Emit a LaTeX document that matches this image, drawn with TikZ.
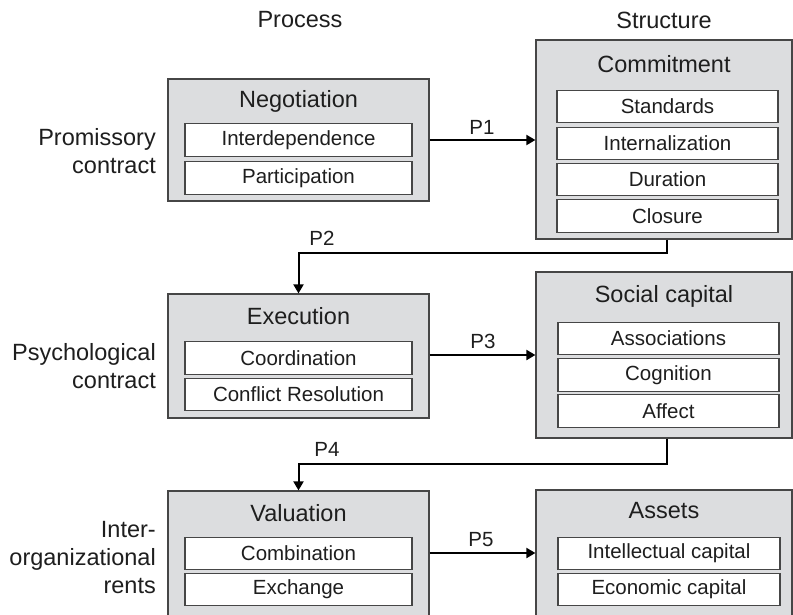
\documentclass[tikz,border=0pt]{standalone}
\usepackage{fontspec}
\setmainfont{Liberation Sans}
\usetikzlibrary{arrows.meta,calc}
\definecolor{boxfill}{RGB}{220,221,223}
\definecolor{boxline}{RGB}{70,70,70}
\definecolor{txt}{RGB}{30,30,30}
\tikzset{
  outerbox/.style={draw=boxline, line width=1.2pt, fill=boxfill, minimum width=#1, inner sep=0pt},
  innerbox/.style={draw=boxline, line width=1.1pt, fill=white, minimum height=32.5pt, inner sep=0pt, text=txt, font=\fontsize{20.5}{24}\selectfont},
  titletext/.style={text=txt, font=\fontsize{23.5}{28}\selectfont, inner sep=0pt},
  sidetext/.style={text=txt, font=\fontsize{23.5}{28}\selectfont, align=right, inner sep=0pt, anchor=east},
  plabel/.style={text=txt, font=\fontsize{20.5}{24}\selectfont, inner sep=0pt},
  conn/.style={line width=2pt, black, -{Triangle[length=9pt,width=10pt]}}
}
\begin{document}
\begin{tikzpicture}[x=1pt,y=-1pt]
\useasboundingbox (0,0) rectangle (793,614);
\clip (0,0) rectangle (793,614);
\fill[white] (0,0) rectangle (793,614);

% headers
\node[titletext] (hproc) at (300,20) {Process};
\node[titletext] (hstruct) at (664,20) {Structure};

% side labels
\node[sidetext] (s1) at (156,151) {Promissory\\contract};
\node[sidetext] (s2) at (156,366) {Psychological\\contract};
\node[sidetext] (s3) at (156,558) {Inter-\\organizational\\rents};

% outer boxes
\node[outerbox=261pt, minimum height=122pt] (neg) at (298.5,140) {};
\node[outerbox=256pt, minimum height=199pt] (com) at (664,139.5) {};
\node[outerbox=261pt, minimum height=124pt] (exe) at (298.5,356) {};
\node[outerbox=256pt, minimum height=166pt] (soc) at (664,355) {};
\node[outerbox=261pt, minimum height=140pt] (val) at (298.5,561) {};
\node[outerbox=256pt, minimum height=140pt] (ass) at (664,560) {};

% titles
\node[titletext] (tneg) at (298.5,101) {Negotiation};
\node[titletext] (tcom) at (664,64) {Commitment};
\node[titletext] (texe) at (298.5,316) {Execution};
\node[titletext] (tsoc) at (664,296) {Social capital};
\node[titletext] (tval) at (298.5,513) {Valuation};
\node[titletext] (tass) at (664,511) {Assets};

% inner boxes
\node[innerbox, minimum width=227pt] (n1) at (298.5,140) {Interdependence};
\node[innerbox, minimum width=227pt] (n2) at (298.5,178) {Participation};

\node[innerbox, minimum width=221pt] (c1) at (667.5,106.5) {Standards};
\node[innerbox, minimum width=221pt] (c2) at (667.5,143.5) {Internalization};
\node[innerbox, minimum width=221pt] (c3) at (667.5,179.5) {Duration};
\node[innerbox, minimum width=221pt] (c4) at (667.5,216) {Closure};

\node[innerbox, minimum width=227pt] (e1) at (298.5,358) {Coordination};
\node[innerbox, minimum width=227pt] (e2) at (298.5,394.5) {Conflict Resolution};

\node[innerbox, minimum width=221pt] (so1) at (668.5,338.5) {Associations};
\node[innerbox, minimum width=221pt] (so2) at (668.5,375) {Cognition};
\node[innerbox, minimum width=221pt] (so3) at (668.5,411) {Affect};

\node[innerbox, minimum width=227pt] (v1) at (298.5,553.5) {Combination};
\node[innerbox, minimum width=227pt] (v2) at (298.5,589.5) {Exchange};

\node[innerbox, minimum width=222pt] (a1) at (669,553.5) {Intellectual capital};
\node[innerbox, minimum width=222pt] (a2) at (669,589.5) {Economic capital};

% connector helper coordinates
\coordinate (y1) at (0,140);
\coordinate (p2) at (667,253);
\coordinate (y3) at (0,355);
\coordinate (p4) at (667,464);
\coordinate (y5) at (0,553);

% connectors
\draw[conn] (neg.east |- y1) -- (com.west |- y1);
\draw[conn] (com.south -| p2) |- (p2) -| (exe.north);
\draw[conn] (exe.east |- y3) -- (soc.west |- y3);
\draw[conn] (soc.south -| p4) |- (p4) -| (val.north);
\draw[conn] (val.east |- y5) -- (ass.west |- y5);

% connector labels
\node[plabel] (l1) at (482,127) {P1};
\node[plabel] (l2) at (322,238) {P2};
\node[plabel] (l3) at (483,341) {P3};
\node[plabel] (l4) at (327,449) {P4};
\node[plabel] (l5) at (481,540) {P5};
\end{tikzpicture}
\end{document}
